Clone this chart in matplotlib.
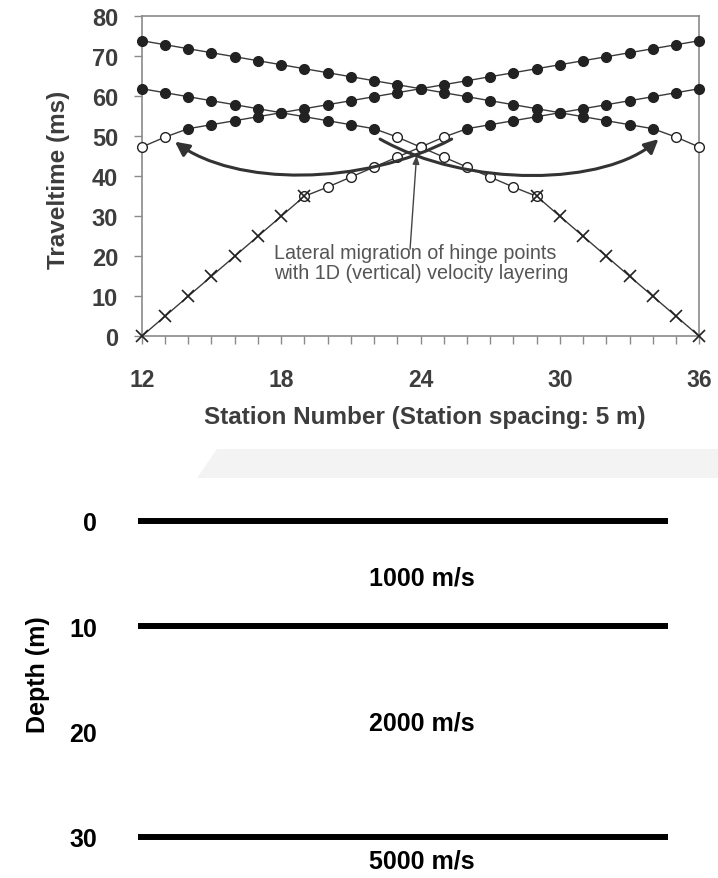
import matplotlib
matplotlib.use('Agg')
import matplotlib.pyplot as plt
from matplotlib.path import Path
from matplotlib.patches import FancyArrowPatch, Polygon

plt.rcParams['font.family'] = ['Liberation Sans', 'DejaVu Sans']

# 受振点番号 (5 m 間隔)
stations = list(range(12, 37))

# 各発振点の初動走時 (ms)
# x: 直接波, o: 第2層屈折波, f: 第3層屈折波, b: 直接波と屈折波が重なる点
t_shot12 = [0, 5, 10, 15, 20, 25, 30, 35, 37.3, 39.8, 42.3, 44.8, 47.3, 49.8,
            51.9, 52.9, 53.9, 54.9, 55.9, 56.9, 57.9, 58.9, 59.9, 60.9, 61.9]
phase_shot12 = 'xxxxxxxboooooofffffffffff'

t_shot36 = [61.9, 60.9, 59.9, 58.9, 57.9, 56.9, 55.9, 54.9, 53.9, 52.9, 51.9,
            49.8, 47.3, 44.8, 42.3, 39.8, 37.3, 35, 30, 25, 20, 15, 10, 5, 0]
phase_shot36 = 'fffffffffffoooooobxxxxxxx'

t_shot0 = [47.3, 49.8, 51.9, 52.9, 53.9, 54.9, 55.9, 56.9, 57.9, 58.9, 59.9, 60.9,
           61.9, 62.9, 63.9, 64.9, 65.9, 66.9, 67.9, 68.9, 69.9, 70.9, 71.9, 72.9, 73.9]
phase_shot0 = 'oofffffffffffffffffffffff'

t_shot48 = [73.9, 72.9, 71.9, 70.9, 69.9, 68.9, 67.9, 66.9, 65.9, 64.9, 63.9, 62.9,
            61.9, 60.9, 59.9, 58.9, 57.9, 56.9, 55.9, 54.9, 53.9, 52.9, 51.9, 49.8, 47.3]
phase_shot48 = 'fffffffffffffffffffffffoo'

# 速度構造
boundary_depths = [0, 10, 30]
depth_ticks = [0, 10, 20, 30]
velocity_labels = ['1000 m/s', '2000 m/s', '5000 m/s']
velocity_label_depths = [6.0, 19.8, 32.9]

line_c = '#3a3a3a'
dot_c = '#222222'
text_c = '#3d3d3d'

fig = plt.figure(figsize=(7.18, 8.79), dpi=100)

# 背景の薄いグレーの帯
fig.add_artist(Polygon([[216.7 / 718, 1 - 450 / 879], [1, 1 - 450 / 879],
                        [1, 1 - 479 / 879], [197.3 / 718, 1 - 479 / 879]],
                       closed=True, transform=fig.transFigure,
                       facecolor='#f3f3f3', edgecolor='none', zorder=0))

# ---- 走時曲線 ----
ax = fig.add_axes([0.1974, 0.6163, 0.7766, 0.364])

for t, ph in [(t_shot12, phase_shot12), (t_shot36, phase_shot36),
              (t_shot0, phase_shot0), (t_shot48, phase_shot48)]:
    ax.plot(stations, t, color=line_c, lw=1.0, zorder=2, clip_on=False)
    fx = [s for s, p in zip(stations, ph) if p == 'f']
    fy = [v for v, p in zip(t, ph) if p == 'f']
    ox = [s for s, p in zip(stations, ph) if p in 'ob']
    oy = [v for v, p in zip(t, ph) if p in 'ob']
    xx = [s for s, p in zip(stations, ph) if p in 'xb']
    xy = [v for v, p in zip(t, ph) if p in 'xb']
    ax.plot(fx, fy, 'o', ms=7, mfc=dot_c, mec=dot_c, ls='none', zorder=4, clip_on=False)
    ax.plot(ox, oy, 'o', ms=7, mfc='white', mec=dot_c, mew=1.0, ls='none', zorder=4, clip_on=False)
    ax.plot(xx, xy, 'x', ms=8.5, mec=dot_c, mew=1.2, ls='none', zorder=5, clip_on=False)

ax.set_xlim(12, 36)
ax.set_ylim(0, 80)
ax.set_xticks([12, 18, 24, 30, 36])
ax.set_xticks(stations, minor=True)
ax.set_yticks(range(0, 81, 10))
for sp in ax.spines.values():
    sp.set_color('#8a8a8a')
    sp.set_linewidth(1.2)
ax.tick_params(which='both', direction='out', length=5.5, width=1, color='#8a8a8a')
ax.tick_params(axis='y', labelsize=17, pad=11.5, labelcolor=text_c)
ax.tick_params(axis='x', labelsize=16.5, pad=17.5, labelcolor=text_c)
for lb in ax.get_xticklabels() + ax.get_yticklabels():
    lb.set_fontweight('bold')

ax.set_ylabel('Traveltime (ms)', fontsize=17.5, fontweight='bold', color=text_c)
ax.yaxis.set_label_coords(-0.1286, 0.4916)
ax.set_xlabel('Station Number (Station spacing: 5 m)', fontsize=17.5,
              fontweight='bold', color=text_c)
ax.xaxis.set_label_coords(0.507, -0.2147)

# 注記
ax.text(17.69, 14.5, 'Lateral migration of hinge points\nwith 1D (vertical) velocity layering',
        fontsize=14.2, color='#555555', ha='left', va='baseline', linespacing=1.1)
ax.annotate('', xy=(23.83, 45.2), xytext=(23.55, 21.8),
            arrowprops=dict(arrowstyle='-|>,head_length=0.5,head_width=0.2',
                            color='#444444', lw=1.0, shrinkA=0, shrinkB=0))

# ヒンジ点の移動を示す曲線矢印
codes = [Path.MOVETO, Path.CURVE4, Path.CURVE4, Path.CURVE4]
left_path = Path([(25.34, 49.3), (21.5, 37.5), (16.0, 37.5), (13.43, 48.65)], codes)
right_path = Path([(22.26, 49.3), (26.0, 37.0), (32.0, 37.5), (34.24, 49.3)], codes)
for p in [left_path, right_path]:
    ax.add_patch(FancyArrowPatch(path=p, arrowstyle='-|>,head_length=0.7,head_width=0.35',
                                 mutation_scale=12, color='#333333', lw=2.2, zorder=6))

# ---- 速度構造 ----
ax2 = fig.add_axes([138 / 718, 0, 530 / 718, 379 / 879])
ax2.set_xlim(0, 1)
ax2.set_ylim(33.94, -2.09)
ax2.hlines(boundary_depths, 0, 1, colors='black', lw=4.3)
for lab, d in zip(velocity_labels, velocity_label_depths):
    ax2.text(0.536, d, lab, fontsize=18, fontweight='bold', color='black',
             ha='center', va='baseline')
ax2.set_xticks([])
ax2.set_yticks(depth_ticks)
ax2.tick_params(axis='y', length=0, pad=29.5, labelsize=18)
for lb in ax2.get_yticklabels():
    lb.set_fontweight('bold')
for sp in ax2.spines.values():
    sp.set_visible(False)
ax2.patch.set_alpha(0)
ax2.set_ylabel('Depth (m)', fontsize=18, fontweight='bold')
ax2.yaxis.set_label_coords(-0.166, 0.538)

fig.savefig('out.png', dpi=100)
